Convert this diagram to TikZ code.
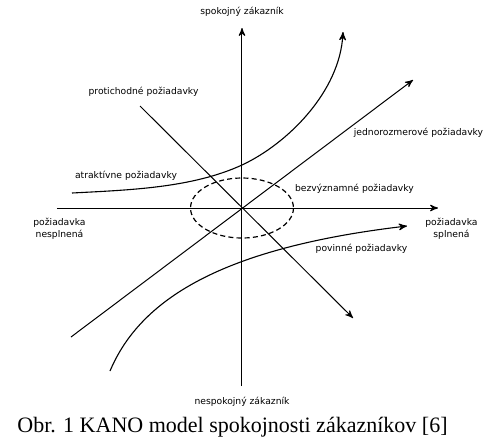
\documentclass[tikz,border=0pt]{standalone}
\usepackage{fontspec}
\setmainfont{Liberation Serif}
\newfontfamily\labelfont{DejaVu Sans}
\usepackage{tikz}
\usetikzlibrary{arrows}
\tikzset{
  reqnode/.style = {align=center, inner sep=0pt, text centered,
    font=\labelfont\fontsize{4.6}{5.9}\selectfont},% popis poziadavky
  capnode/.style = {inner sep=0pt, font=\fontsize{11}{13}\selectfont},% popis obrazku
  curve/.style = {line width=0.55pt},
  zone/.style = {-, dashed, dash pattern=on 2.5pt off 1.6pt, line width=0.6pt}
}

\begin{document}
\begin{tikzpicture}[->,>=stealth',x=0.5pt,y=-0.5pt,line width=0.5pt]
\useasboundingbox (0,0) rectangle (500,447);
\coordinate (O) at (242,208);
\coordinate (W) at (57,208);
\coordinate (E) at (438,208);
\coordinate (N) at (242,28);
\coordinate (S) at (242,386);
% osi
\draw (W) -- (E);
\draw (S) -- (N);
\coordinate (p0) at (140,106);
\coordinate (p1) at (353,318);
\coordinate (j0) at (71,337);
\coordinate (j1) at (413,80);
\coordinate (a0) at (72,193);
\coordinate (a1) at (343,32);
\coordinate (v0) at (110,371);
\coordinate (v1) at (407,226);
\draw (p0) -- (p1);% protichodne
\draw (j0) -- (j1);% jednorozmerove
\draw[curve] (a0) .. controls (129,190) and (192,188) .. (O |- 0,165)
  .. controls (287,144) and (340,92) .. (a1);% atraktivne
\draw[curve] (v0) .. controls (140,300) and (220,248) .. (v1);% povinne
\draw[zone] (O) ellipse [x radius=51.5, y radius=30];
\node [reqnode] (top) at (242,12) {spokojný zákazník};
\node [reqnode] (bottom) at (242,402) {nespokojný zákazník};
\node [reqnode] (left) at (59.5,229) {požiadavka\\nesplnená};
\node [reqnode] (right) at (451.5,229) {požiadavka\\splnená};
\node [reqnode] (prot) at (143.5,92) {protichodné požiadavky};
\node [reqnode] (jedn) at (418.5,133) {jednorozmerové požiadavky};
\node [reqnode] (atr) at (126,176) {atraktívne požiadavky};
\node [reqnode] (bezv) at (354.5,189) {bezvýznamné požiadavky};
\node [reqnode] (pov) at (361.5,249) {povinné požiadavky};
\node [capnode] (cap) at (232.5,427) {Obr. 1 KANO model spokojnosti zákazníkov [6]};
\end{tikzpicture}
\end{document}
